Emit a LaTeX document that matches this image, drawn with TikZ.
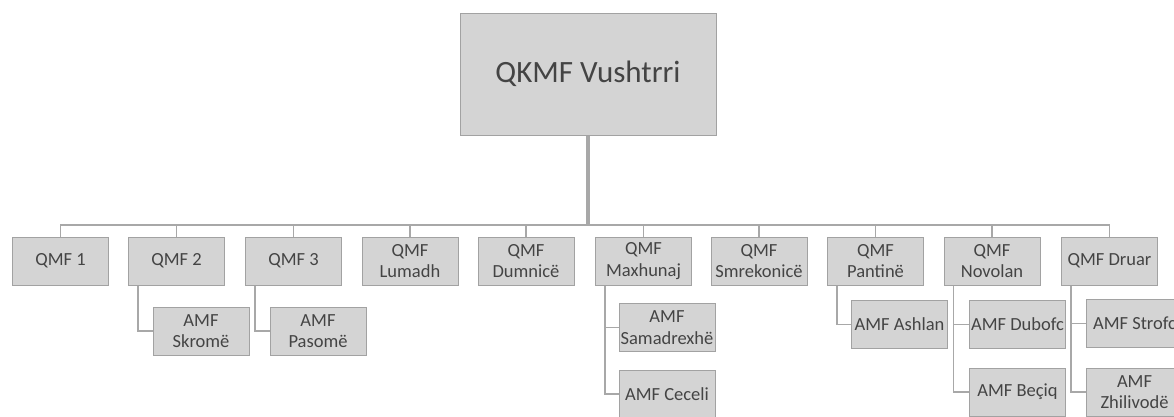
\documentclass[tikz,border=0pt]{standalone}
\usepackage{fontspec}
\setmainfont{Carlito}
\usetikzlibrary{calc}
\definecolor{boxfill}{HTML}{D4D4D4}
\definecolor{boxline}{HTML}{A2A2A2}
\definecolor{conn}{HTML}{A8A8A8}
\definecolor{txt}{HTML}{444444}
\begin{document}
\begin{tikzpicture}[x=1pt,y=-1pt,
  box/.style={draw=boxline, fill=boxfill, line width=1pt, text=txt, align=center,
    minimum width=96pt, minimum height=48pt, inner xsep=0pt, inner ysep=1pt,
    font=\fontsize{18.5}{21.5}\selectfont},
  bigbox/.style={box, minimum width=256pt, minimum height=122pt,
    font=\fontsize{31}{36}\selectfont},
  conn/.style={draw=conn, line width=1.6pt},
  trunk/.style={draw=conn, line width=3.5pt}]
\clip (0,0) rectangle (1174,416);
\fill[white] (0,0) rectangle (1174,416);
% top
\node[bigbox] (top) at (588,74) {QKMF Vushtrri};
% first row
\node[box] (q1)  at (60.5,261)  {QMF 1};
\node[box] (q2)  at (176.5,261) {QMF 2};
\node[box] (q3)  at (293.5,261) {QMF 3};
\node[box] (q4)  at (410,261)   {QMF\\Lumadh};
\node[box] (q5)  at (526,261)   {QMF\\Dumnicë};
\node[box] (q6)  at (643.5,261) {QMF\\Maxhunaj};
\node[box] (q7)  at (759,261)   {QMF\\Smrekonicë};
\node[box] (q8)  at (875.5,261) {QMF\\Pantinë};
\node[box] (q9)  at (992,261)   {QMF\\Novolan};
\node[box] (q10) at (1109.5,261) {QMF Druar};
% sub boxes
\node[box] (a1) at (201,331)    {AMF\\Skromë};
\node[box] (a2) at (318,331)    {AMF\\Pasomë};
\node[box] (a3) at (667,327.5)  {AMF\\Samadrexhë};
\node[box] (a4) at (667,394)    {AMF Ceceli};
\node[box] (a5) at (899.5,324.5) {AMF Ashlan};
\node[box] (a6) at (1017.5,324.5) {AMF Dubofc};
\node[box] (a7) at (1017.5,392) {AMF Beçiq};
\node[box] (a8) at (1134.5,323.5) {AMF Strofc};
\node[box] (a9) at (1134.5,392) {AMF\\Zhilivodë};
% connectors
\coordinate (bus) at (588,225);
\draw[trunk] (top.south) -- (bus);
\foreach \n in {q1,q2,q3,q4,q5,q6,q7,q8,q9,q10}
  \draw[conn] (bus) -| (\n.north);
\draw[conn] ($(q2.south west)+(10,0)$) |- (a1.west);
\draw[conn] ($(q3.south west)+(10,0)$) |- (a2.west);
\draw[conn] ($(q6.south west)+(10,0)$) |- (a3.west);
\draw[conn] ($(q6.south west)+(10,0)$) |- (a4.west);
\draw[conn] ($(q8.south west)+(10,0)$) |- (a5.west);
\draw[conn] ($(q9.south west)+(10,0)$) |- (a6.west);
\draw[conn] ($(q9.south west)+(10,0)$) |- (a7.west);
\draw[conn] ($(q10.south west)+(10,0)$) |- (a8.west);
\draw[conn] ($(q10.south west)+(10,0)$) |- (a9.west);
\end{tikzpicture}
\end{document}
